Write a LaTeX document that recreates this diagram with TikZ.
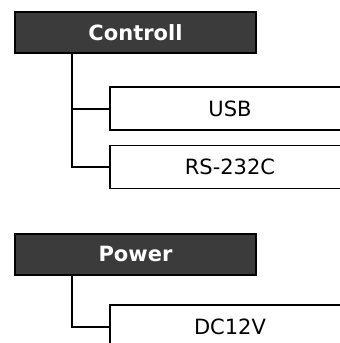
\documentclass[tikz,border=0pt]{standalone}
\usepackage{fontspec}
\setmainfont{DejaVu Sans}
\begin{document}
\begin{tikzpicture}[x=1pt,y=-1pt,
  darkbox/.style={draw=black, fill=black!77, line width=2pt, text=white, font=\fontsize{21}{25}\selectfont\bfseries, minimum width=241pt, minimum height=41pt, inner sep=0pt},
  itembox/.style={draw=black, fill=white, line width=1.8pt, text=black, font=\fontsize{21}{25}\selectfont, minimum width=240pt, minimum height=43pt, inner sep=0pt},
  link/.style={draw=black, line width=2pt}]
\clip (0,0) rectangle (340,343);
\fill[white] (0,0) rectangle (340,343);
\node[darkbox] (ctl) at (135.5,32.5) {Controll};
\node[itembox] (usb) at (230,108.5) {USB};
\node[itembox] (rs) at (230,167) {RS-232C};
\node[darkbox] (pwr) at (135.5,254) {Power};
\node[itembox] (dc) at (230,326.5) {DC12V};
\draw[link] ([xshift=58pt]ctl.south west) |- (usb.west);
\draw[link] ([xshift=58pt]ctl.south west) |- (rs.west);
\draw[link] ([xshift=58pt]pwr.south west) |- (dc.west);
\end{tikzpicture}
\end{document}
